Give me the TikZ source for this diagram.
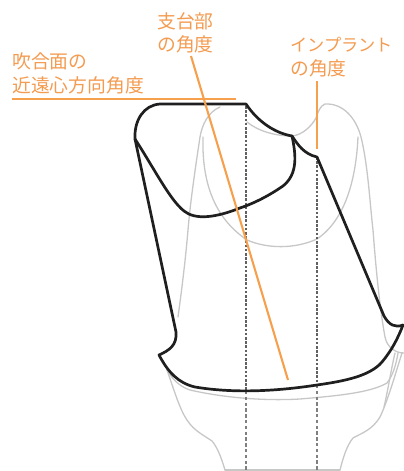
\documentclass[tikz,border=0pt]{standalone}
\usepackage{fontspec}
\newfontfamily\cjk{Noto Sans CJK JP}
\definecolor{orangeline}{HTML}{F6A04D}
\definecolor{orangetext}{HTML}{F39B50}
\begin{document}
\begin{tikzpicture}[x=1pt,y=-1pt,
  outline/.style={draw=black!88,line width=2.7pt,line join=round,line cap=round},
  ghost/.style={draw=black!22,line width=1.3pt,line cap=round},
  axisline/.style={draw=black!62,line width=1.3pt,dash pattern=on 2.6pt off 1.6pt},
  axislow/.style={draw=black!50,line width=1.1pt,dash pattern=on 3.4pt off 2.4pt},
  accent/.style={draw=orangeline,line width=2.1pt},
  lbl/.style={text=orangetext,anchor=west,inner sep=0pt,font=\cjk\fontsize{18.8}{19}\selectfont}]
\useasboundingbox (0,0) rectangle (404,471);
% implant (grey)
\draw[ghost] (247,122) .. controls (258,131) and (275,136) .. (292,136)
  .. controls (302,135) and (311,127) .. (316,118)
  .. controls (318,112) and (320,106) .. (325,104)
  .. controls (343,103) and (356,118) .. (361,137)
  .. controls (368,165) and (370,205) .. (373,230)
  .. controls (376,270) and (380,310) .. (385,337)
  .. controls (387,347) and (395,353) .. (404,353);
\draw[ghost] (220,107) .. controls (208,112) and (202,125) .. (200,137)
  .. controls (195,170) and (190,205) .. (188,230)
  .. controls (185,265) and (181,295) .. (178,317);
\draw[ghost] (203,137) .. controls (202,175) and (210,215) .. (247,240)
  .. controls (268,249) and (295,249) .. (317,239)
  .. controls (345,220) and (356,180) .. (358,137);
\draw[ghost] (167,370) .. controls (172,378) and (178,386) .. (190,390)
  .. controls (225,398) and (265,401) .. (300,399)
  .. controls (335,396) and (370,393) .. (387,383)
  .. controls (393,375) and (396,365) .. (398,353);
\draw[ghost] (167,370) .. controls (174,390) and (180,410) .. (187,420)
  .. controls (194,431) and (205,436) .. (212,441)
  .. controls (218,448) and (222,460) .. (225,470);
\draw[ghost] (402,353) .. controls (395,375) and (388,400) .. (380,417)
  .. controls (372,430) and (362,433) .. (353,438)
  .. controls (347,445) and (343,458) .. (340,470);
\draw[ghost] (395,353) .. controls (391,370) and (388,390) .. (384,407);
\draw[ghost] (225,470) -- (340,470);
% axes
\coordinate (aT) at (246,106); \coordinate (aM) at (246,391); \coordinate (aB) at (246,471);
\coordinate (bT) at (317,157); \coordinate (bM) at (317,385); \coordinate (bB) at (317,471);
\draw[axisline] (aT) -- (aM);
\draw[axislow] (aM) -- (aB);
\draw[axisline] (bT) -- (bM);
\draw[axislow] (bM) -- (bB);
% crown (black)
\draw[outline] (246,104) -- (160,104)
  .. controls (144,105) and (134,120) .. (135,139)
  -- (176,332)
  .. controls (177,345) and (170,350) .. (159,355)
  .. controls (168,372) and (178,383) .. (195,387)
  .. controls (225,392) and (265,393) .. (317,385)
  .. controls (345,381) and (370,376) .. (382,362)
  .. controls (392,350) and (398,338) .. (403,325)
  .. controls (395,328) and (389,325) .. (384,316)
  -- (317,157)
  .. controls (304,154) and (298,145) .. (292,136)
  .. controls (275,133) and (258,122) .. (246,104) -- cycle;
\draw[outline] (135,139) .. controls (155,170) and (170,200) .. (184,211)
  .. controls (195,220) and (215,218) .. (240,208)
  .. controls (255,203) and (270,195) .. (283,186)
  .. controls (298,174) and (296,155) .. (292,136);
% orange lines
\coordinate (pL) at (12,99); \coordinate (pR) at (236,99);
\coordinate (sT) at (191,56); \coordinate (sB) at (288,380);
\coordinate (iT) at (317,81); \coordinate (iB) at (317,149);
\draw[accent,line width=2.6pt] (pL) -- (pR);
\draw[accent] (sT) -- (sB);
\draw[accent] (iT) -- (iB);
% labels
\node[lbl] (t1) at (157,21) {支台部};
\node[lbl] (t2) at (157,44) {の角度};
\node[lbl] (t3) at (12,61) {吹合面の};
\node[lbl] (t4) at (12,85) {近遠心方向角度};
\node[lbl,font=\cjk\fontsize{17.2}{17}\selectfont] (t5) at (290,45) {インプラント};
\node[lbl] (t6) at (290,68) {の角度};
\end{tikzpicture}
\end{document}
